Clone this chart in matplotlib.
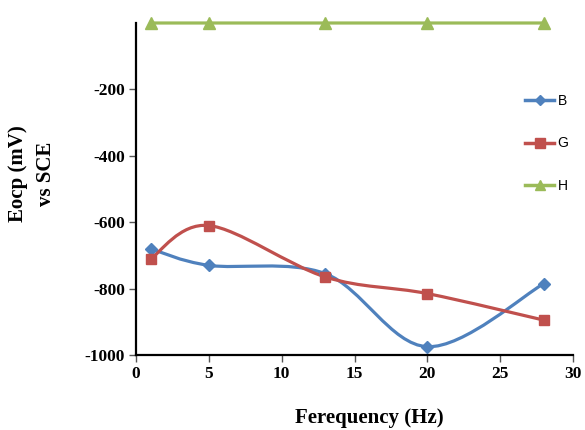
import matplotlib
matplotlib.use("Agg")
import matplotlib.pyplot as plt
import numpy as np
from matplotlib.path import Path
from matplotlib.patches import PathPatch
from matplotlib.lines import Line2D

freq = [1, 5, 13, 20, 28]
series_B = [-680, -730, -755, -975, -785]
series_G = [-710, -610, -765, -815, -895]
series_H = [0, 0, 0, 0, 0]
x_ticks = [0, 5, 10, 15, 20, 25, 30]
y_ticks = [-1000, -800, -600, -400, -200]

colors = {"B": "#4F81BD", "G": "#C0504D", "H": "#9BBB59"}
markers = {"B": "D", "G": "s", "H": "^"}
msizes = {"B": 6, "G": 7, "H": 8}

fig = plt.figure(figsize=(5.85, 4.30), dpi=100)
ax = fig.add_axes([136/585, 1-355/430, (573-136)/585, (355-23)/430])


def smooth_path(x, y):
    x = np.asarray(x, float); y = np.asarray(y, float)
    n = len(x)
    verts = [(x[0], y[0])]
    codes = [Path.MOVETO]
    for i in range(n - 1):
        p0 = np.array([x[max(i-1, 0)], y[max(i-1, 0)]])
        p1 = np.array([x[i], y[i]])
        p2 = np.array([x[i+1], y[i+1]])
        p3 = np.array([x[min(i+2, n-1)], y[min(i+2, n-1)]])
        c1 = p1 + (p2 - p0) / 6.0
        c2 = p2 - (p3 - p1) / 6.0
        verts += [tuple(c1), tuple(c2), tuple(p2)]
        codes += [Path.CURVE4] * 3
    return Path(verts, codes)


handles = []
for name, ys in [("B", series_B), ("G", series_G), ("H", series_H)]:
    c = colors[name]
    patch = PathPatch(smooth_path(freq, ys), facecolor="none", edgecolor=c,
                      lw=2.3, clip_on=False, zorder=3)
    ax.add_patch(patch)
    ax.plot(freq, ys, linestyle="none", marker=markers[name], ms=msizes[name],
            color=c, clip_on=False, zorder=4)
    handles.append(Line2D([], [], color=c, lw=2.5, marker=markers[name],
                          ms=msizes[name] - 0.5, label=name))

ax.set_xlim(0, 30)
ax.set_ylim(-1000, 0)
ax.set_xticks(x_ticks)
ax.set_yticks(y_ticks)
ax.set_xticklabels([str(v) for v in x_ticks])
ax.set_yticklabels([str(v) for v in y_ticks])

for s in ["top", "right"]:
    ax.spines[s].set_visible(False)
for s in ["left", "bottom"]:
    ax.spines[s].set_linewidth(1.6)
    ax.spines[s].set_color("black")

ax.tick_params(axis="both", direction="out", length=5, width=1, color="#555555",
               labelsize=12.5, pad=3)
for lab in ax.get_xticklabels() + ax.get_yticklabels():
    lab.set_fontfamily("Liberation Serif")
    lab.set_fontweight("bold")

fig.text(369/585, 1-418/430, "Ferequency (Hz)", ha="center", va="center",
         fontsize=15, fontweight="bold", family="Liberation Serif")
fig.text(18/585, 1-174/430, "Eocp (mV)", ha="center", va="center", rotation=90,
         fontsize=15, fontweight="bold", family="Liberation Serif")
fig.text(46/585, 1-174/430, "vs SCE", ha="center", va="center", rotation=90,
         fontsize=15, fontweight="bold", family="Liberation Serif")

leg = fig.legend(handles=handles, loc="upper left",
                 bbox_to_anchor=(525/585, 1-94/430), frameon=False,
                 prop={"family": "Liberation Sans", "size": 10},
                 handlelength=2.1, handletextpad=0.25, labelspacing=2.05,
                 borderpad=0, borderaxespad=0)

fig.savefig("out.png", dpi=100)
